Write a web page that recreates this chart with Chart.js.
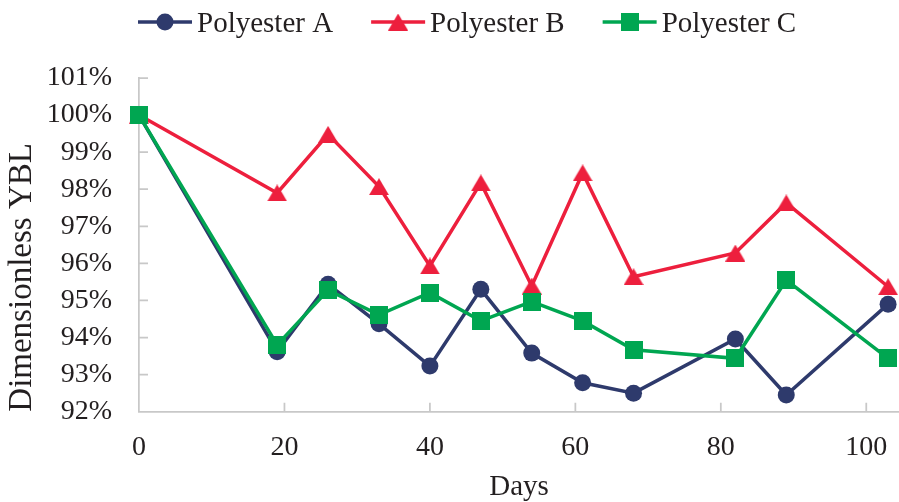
<!DOCTYPE html>
<html>
<head>
<meta charset="utf-8">
<script src="https://cdn.jsdelivr.net/npm/chart.js@4.4.1/dist/chart.umd.min.js"></script>
<style>
    html, body { margin: 0; padding: 0; background: #fff; }
    #wrap { width: 899px; height: 502px; position: relative; }
</style>
</head>
<body>
<div id="wrap"><canvas id="ybl"></canvas></div>
<script>
// Values
const days = [0, 19, 26, 33, 40, 47, 54, 61, 68, 82, 89, 103];
const polyA = [100, 93.62, 95.44, 94.37, 93.23, 95.30, 93.58, 92.78, 92.50, 93.96, 92.45, 94.90];
const polyB = [100, 97.90, 99.48, 98.07, 95.93, 98.17, 95.39, 98.44, 95.64, 96.28, 97.63, 95.37];
const polyC = [100, 93.80, 95.28, 94.61, 95.21, 94.45, 94.97, 94.45, 93.67, 93.44, 95.55, 93.44];
const seriesNames = ['Polyester A', 'Polyester B', 'Polyester C'];
const xTicks = [0, 20, 40, 60, 80, 100];
const yTicks = [92, 93, 94, 95, 96, 97, 98, 99, 100, 101];

const FONT = "'Liberation Serif', 'Times New Roman', serif";
const TEXT = '#231f20';
const AXIS = '#c8c8c8';
const colA = '#2e3a6c', colB = '#ed1f3d', colC = '#00a651';

// Excel-style markers (centered in their box)
function triangleMarker(color) {
    const c = document.createElement('canvas');
    c.width = 20; c.height = 17;
    const g = c.getContext('2d');
    g.fillStyle = color;
    g.beginPath();
    g.moveTo(10, 0); g.lineTo(20, 17); g.lineTo(0, 17); g.closePath();
    g.fill();
    return c;
}
function squareMarker(color) {
    const c = document.createElement('canvas');
    c.width = 18; c.height = 18;
    const g = c.getContext('2d');
    g.fillStyle = color;
    g.fillRect(0, 0, 18, 18);
    return c;
}
const triB = triangleMarker(colB);
const sqC = squareMarker(colC);

const toPoints = vals => days.map((d, i) => ({ x: d, y: vals[i] }));

// Inward tick marks like the original
const innerTicks = {
    id: 'innerTicks',
    beforeDatasetsDraw(chart) {
        const { ctx, chartArea: a, scales: { x, y } } = chart;
        ctx.save();
        ctx.strokeStyle = AXIS;
        ctx.lineWidth = 1.75;
        ctx.beginPath();
        xTicks.slice(1).forEach(v => {
            const px = x.getPixelForValue(v);
            ctx.moveTo(px, a.bottom);
            ctx.lineTo(px, a.bottom - 9);
        });
        yTicks.slice(1).forEach(v => {
            const py = y.getPixelForValue(v);
            ctx.moveTo(a.left, py);
            ctx.lineTo(a.left + 9, py);
        });
        ctx.stroke();
        ctx.restore();
    }
};

// Legend: line with marker in the middle, then label
const lineLegend = {
    id: 'lineLegend',
    afterDraw(chart) {
        const { ctx } = chart;
        const yMid = 22;
        const lineLen = 54;
        let xPos = 138;
        ctx.save();
        ctx.font = '29px ' + FONT;
        ctx.textBaseline = 'middle';
        ctx.fillStyle = TEXT;
        chart.data.datasets.forEach(ds => {
            ctx.strokeStyle = ds.borderColor;
            ctx.lineWidth = 3.5;
            ctx.beginPath();
            ctx.moveTo(xPos, yMid);
            ctx.lineTo(xPos + lineLen, yMid);
            ctx.stroke();
            const cx = xPos + lineLen / 2;
            if (ds.pointStyle === 'circle') {
                ctx.fillStyle = ds.pointBackgroundColor;
                ctx.beginPath();
                ctx.arc(cx, yMid, 8.5, 0, Math.PI * 2);
                ctx.fill();
            } else {
                const img = ds.pointStyle;
                ctx.drawImage(img, cx - img.width / 2, yMid - img.height / 2);
            }
            ctx.fillStyle = TEXT;
            ctx.fillText(ds.label, xPos + lineLen + 5, yMid + 2);
            xPos += lineLen + 5 + ctx.measureText(ds.label).width + 38;
        });
        ctx.restore();
    }
};

Chart.defaults.font.family = FONT;
Chart.defaults.color = TEXT;

new Chart(document.getElementById('ybl'), {
    type: 'line',
    data: {
        datasets: [
            {
                label: seriesNames[0],
                data: toPoints(polyA),
                borderColor: colA,
                backgroundColor: colA,
                pointBackgroundColor: colA,
                pointBorderColor: colA,
                pointStyle: 'circle',
                pointRadius: 8.5,
                pointBorderWidth: 0,
                borderWidth: 3.5,
                order: 2
            },
            {
                label: seriesNames[1],
                data: toPoints(polyB),
                borderColor: colB,
                backgroundColor: colB,
                pointBackgroundColor: colB,
                pointStyle: triB,
                pointRadius: 10,
                borderWidth: 3.5,
                order: 1
            },
            {
                label: seriesNames[2],
                data: toPoints(polyC),
                borderColor: colC,
                backgroundColor: colC,
                pointBackgroundColor: colC,
                pointStyle: sqC,
                pointRadius: 9,
                borderWidth: 3.5,
                order: 0
            }
        ]
    },
    options: {
        responsive: true,
        maintainAspectRatio: false,
        animation: false,
        clip: false,
        layout: { autoPadding: false, padding: { top: 78, right: 0, left: 0, bottom: 0 } },
        plugins: {
            legend: { display: false },
            tooltip: { enabled: false }
        },
        elements: { line: { tension: 0 } },
        scales: {
            x: {
                type: 'linear',
                min: 0,
                max: 104.5,
                afterFit: s => {
                    s.height = 90.3;
                    s.paddingLeft = 0;
                    s.paddingRight = 0;
                },
                afterBuildTicks: s => { s.ticks = xTicks.map(v => ({ value: v })); },
                grid: { display: false, drawTicks: false },
                border: { display: true, color: AXIS, width: 1.75 },
                ticks: {
                    padding: 19,
                    font: { size: 28 },
                    color: TEXT,
                    maxRotation: 0
                },
                title: {
                    display: true,
                    text: 'Days',
                    font: { size: 29, lineHeight: 1 },
                    color: TEXT,
                    padding: { top: 8, bottom: 0 }
                }
            },
            y: {
                min: 92,
                max: 101,
                afterFit: s => {
                    s.width = 139;
                    s.paddingTop = 0;
                    s.paddingBottom = 0;
                },
                afterBuildTicks: s => { s.ticks = yTicks.map(v => ({ value: v })); },
                grid: { display: false, drawTicks: false },
                border: { display: true, color: AXIS, width: 1.75 },
                ticks: {
                    padding: 27,
                    font: { size: 28 },
                    color: TEXT,
                    callback: v => v + '%'
                },
                title: {
                    display: true,
                    text: 'Dimensionless YBL',
                    align: 'start',
                    font: { size: 33, lineHeight: 1 },
                    color: TEXT,
                    padding: { top: 5.5, bottom: 4 }
                }
            }
        }
    },
    plugins: [innerTicks, lineLegend]
});
</script>
</body>
</html>
